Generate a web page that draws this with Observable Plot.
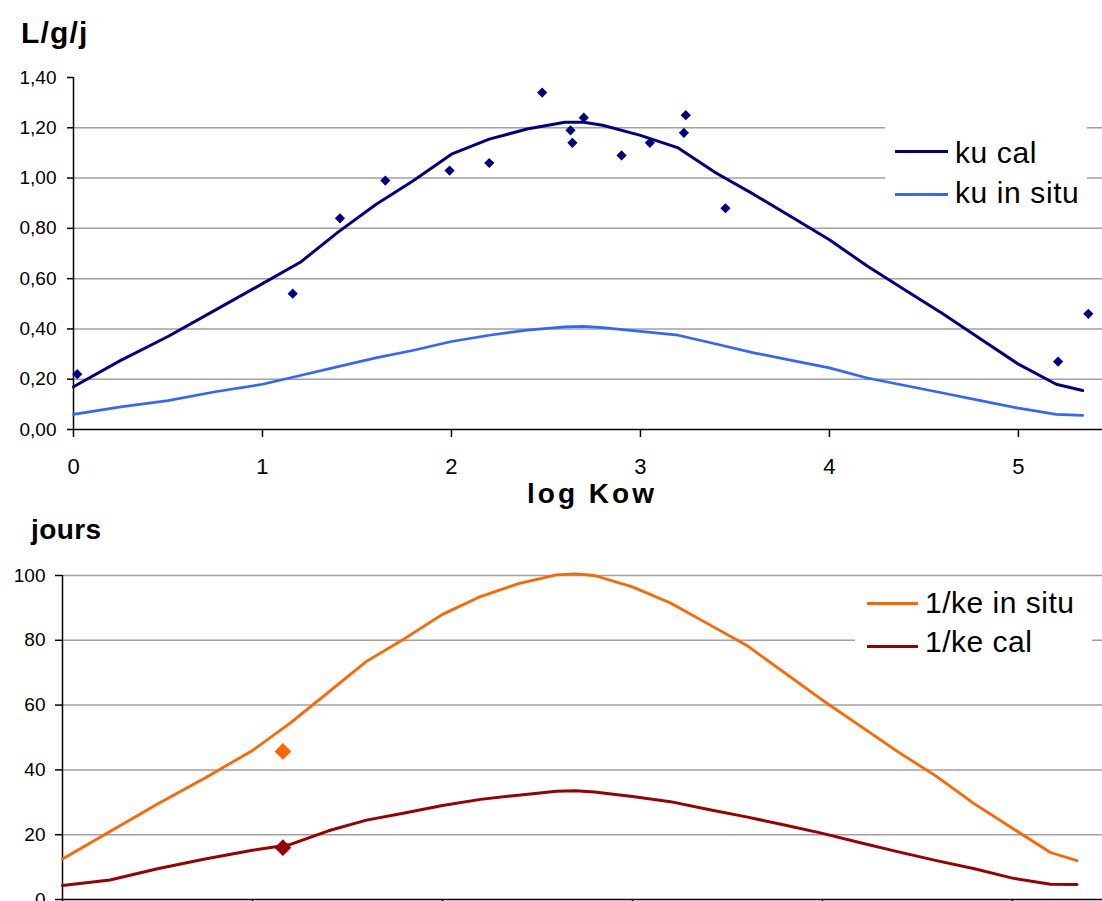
<!DOCTYPE html>
<html><head><meta charset="utf-8">
<script src="https://cdn.jsdelivr.net/npm/d3@7"></script>
<script src="https://cdn.jsdelivr.net/npm/@observablehq/plot@0.6"></script>
<style>
html,body{margin:0;padding:0;overflow:hidden;background:#fff;width:1102px;height:901px;}
#root{position:relative;width:1102px;height:901px;font-family:"Liberation Sans",Arial,sans-serif;color:#000;}
.abs{position:absolute;white-space:nowrap;}
.title{font-weight:bold;}
.box{position:absolute;background:#fff;}
.sw{position:absolute;height:3px;}
</style></head><body><div id="root"></div>
<script>
// ---- data ----
const logKowTicks = [0, 1, 2, 3, 4, 5];
const kuTicks = [0, 0.2, 0.4, 0.6, 0.8, 1.0, 1.2, 1.4];
const kuGrid = [0.2, 0.4, 0.6, 0.8, 1.0, 1.2];
const keTicks = [0, 20, 40, 60, 80, 100];
const keGrid = [20, 40, 60, 80, 100];

const lineX = [0, 0.25, 0.5, 0.75, 1, 1.2, 1.4, 1.6, 1.8, 2, 2.2, 2.4, 2.6, 2.7, 2.8, 3, 3.2, 3.4, 3.6, 3.8, 4, 4.2, 4.4, 4.6, 4.8, 5, 5.2, 5.34];
const kuCal = [0.17, 0.275, 0.37, 0.475, 0.58, 0.665, 0.785, 0.895, 0.99, 1.095, 1.155, 1.195, 1.222, 1.222, 1.21, 1.17, 1.12, 1.02, 0.935, 0.845, 0.755, 0.65, 0.555, 0.46, 0.36, 0.26, 0.18, 0.155];
const kuInSitu = [0.06, 0.09, 0.115, 0.15, 0.18, 0.215, 0.25, 0.285, 0.315, 0.35, 0.375, 0.395, 0.408, 0.41, 0.405, 0.39, 0.375, 0.34, 0.305, 0.275, 0.245, 0.205, 0.175, 0.145, 0.115, 0.085, 0.06, 0.056];
const obsLogKow = [0.02, 1.16, 1.41, 1.65, 1.99, 2.20, 2.48, 2.63, 2.64, 2.70, 2.90, 3.05, 3.23, 3.24, 3.45, 5.21, 5.37];
const obsKu = [0.22, 0.54, 0.84, 0.99, 1.03, 1.06, 1.34, 1.19, 1.14, 1.24, 1.09, 1.14, 1.18, 1.25, 0.88, 0.27, 0.46];

const keInSitu = [12.5, 21, 29.5, 37.5, 46, 54.5, 64, 73.5, 80.5, 88, 93.5, 97.5, 100.2, 100.5, 100, 96.5, 91.5, 85, 78.5, 70, 61.5, 53.5, 45.5, 38, 29.5, 22, 14.5, 12];
const keCal = [4.3, 6.0, 9.5, 12.5, 15.2, 17, 21.2, 24.5, 26.7, 29, 30.9, 32.2, 33.4, 33.6, 33.2, 31.8, 30.2, 27.8, 25.5, 23, 20.4, 17.5, 14.7, 12, 9.5, 6.6, 4.7, 4.6];
const keObsLogKow = [1.16];
const keObsInSitu = [45.7];
const keObsCal = [16];

const C_KUCAL = "#000080", C_KUSITU = "#3366ff", C_KESITU = "#ff6600", C_KECAL = "#990000";
const FONT = "Liberation Sans, Arial, sans-serif";
const fmt2 = d => d.toFixed(2).replace(".", ",");
const fmt0 = d => String(d);

const root = document.getElementById("root");
function place(el, left, top) {
  el.style.position = "absolute"; el.style.left = left + "px"; el.style.top = top + "px";
  root.appendChild(el); return el;
}

// ---- top chart ----
const topChart = Plot.plot({
  width: 1102, height: 480,
  marginTop: 77, marginBottom: 51, marginLeft: 73, marginRight: 0,
  x: {domain: [0, 5.445]},
  y: {domain: [0, 1.4]},
  style: {fontFamily: FONT, background: "transparent", color: "#000"},
  marks: [
    Plot.gridY(kuGrid, {stroke: "#a0a0a0", strokeOpacity: 1, strokeWidth: 1.5}),
    Plot.axisY(kuTicks, {tickSize: 6, tickPadding: 11, tickFormat: fmt2, fontSize: 19, label: null, strokeWidth: 1.5}),
    Plot.axisX(logKowTicks, {tickSize: 8, tickPadding: 21, tickFormat: fmt0, fontSize: 22, label: null, strokeWidth: 1.5}),
    Plot.ruleX([0], {y1: 0, y2: 1.4, stroke: "#000", strokeWidth: 1.5}),
    Plot.ruleY([0], {stroke: "#000", strokeWidth: 1.5}),
    Plot.line(lineX, {x: lineX, y: kuInSitu, stroke: C_KUSITU, strokeWidth: 2.7}),
    Plot.line(lineX, {x: lineX, y: kuCal, stroke: C_KUCAL, strokeWidth: 3}),
    Plot.dot(obsLogKow, {x: obsLogKow, y: obsKu, symbol: "diamond2", r: 4.6, fill: C_KUCAL, stroke: "none"})
  ]
});
place(topChart, 0, 0);

// ---- bottom chart ----
const botChart = Plot.plot({
  width: 1102, height: 394,
  marginTop: 30, marginBottom: 40, marginLeft: 62, marginRight: 0,
  x: {domain: [0, 5.474]},
  y: {domain: [0, 100]},
  style: {fontFamily: FONT, background: "transparent", color: "#000"},
  marks: [
    Plot.gridY(keGrid, {stroke: "#a0a0a0", strokeOpacity: 1, strokeWidth: 1.5}),
    Plot.axisY(keTicks, {tickSize: 7, tickPadding: 10, fontSize: 19, label: null, strokeWidth: 1.5}),
    Plot.axisX(logKowTicks, {tickSize: 7, tickFormat: () => "", label: null, strokeWidth: 1.5}),
    Plot.ruleX([0], {y1: 0, y2: 100, stroke: "#000", strokeWidth: 1.5}),
    Plot.ruleY([0], {stroke: "#000", strokeWidth: 1.5}),
    Plot.line(lineX, {x: lineX, y: keInSitu, stroke: C_KESITU, strokeWidth: 2.8}),
    Plot.line(lineX, {x: lineX, y: keCal, stroke: C_KECAL, strokeWidth: 3}),
    Plot.dot(keObsLogKow, {x: keObsLogKow, y: keObsInSitu, symbol: "diamond2", r: 7.5, fill: C_KESITU, stroke: "none"}),
    Plot.dot(keObsLogKow, {x: keObsLogKow, y: keObsCal, symbol: "diamond2", r: 7.5, fill: C_KECAL, stroke: "none"})
  ]
});
place(botChart, 0, 545);

// ---- titles ----
function text(str, left, baseline, fs, bold, extra) {
  const d = document.createElement("div");
  d.className = "abs" + (bold ? " title" : "");
  d.textContent = str;
  d.style.fontSize = fs + "px"; d.style.lineHeight = fs + "px";
  if (extra) Object.assign(d.style, extra);
  return place(d, left, baseline - 0.8465 * fs);
}
text("L/g/j", 21, 43, 30, true, {letterSpacing: "1.2px"});
text("log Kow", 392, 504, 28, true, {width: "400px", textAlign: "center", letterSpacing: "3px"});
text("jours", 31, 540, 28, true, {letterSpacing: "0.4px"});

// ---- legends ----
function box(l, t, w, h) { const b = document.createElement("div"); b.className = "box"; b.style.width = w + "px"; b.style.height = h + "px"; return place(b, l, t); }
function swatch(l, y, w, color) { const s = document.createElement("div"); s.className = "sw"; s.style.width = w + "px"; s.style.background = color; return place(s, l, y - 1.5); }
box(885, 122, 202, 98);
swatch(895, 151, 53, C_KUCAL); text("ku cal", 955, 163, 30, false, {letterSpacing: "0.6px"});
swatch(895, 194, 53, C_KUSITU); text("ku in situ", 955, 203, 30, false, {letterSpacing: "0.6px"});
box(855, 580, 237, 85);
swatch(867, 603, 51, C_KESITU); text("1/ke in situ", 925, 613, 30, false, {letterSpacing: "0.5px"});
swatch(867, 646, 51, C_KECAL); text("1/ke cal", 925, 652, 30, false, {letterSpacing: "0.5px"});
</script></body></html>
